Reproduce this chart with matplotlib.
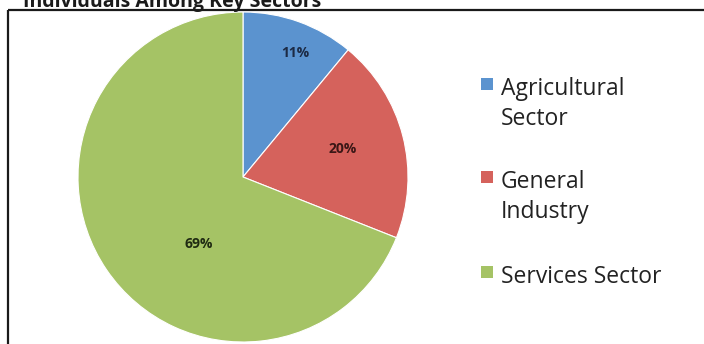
import matplotlib
matplotlib.use("Agg")
import matplotlib.pyplot as plt
from matplotlib.patches import Rectangle
import numpy as np

# ---- data ----
categories = ["Agricultural\nSector", "General\nIndustry", "Services Sector"]
shares = [11, 20, 69]
pct_labels = ["11%", "20%", "69%"]
title = "Individuals Among Key Sectors"

colors = ["#5b93cf", "#d5625c", "#a5c365"]
pct_colors = ["#1c2a44", "#3a1716", "#1f2a12"]
# label placement (angle in degrees, fraction of radius)
label_place = [(67.2, 0.815), (15.6, 0.63), (236.5, 0.49)]

W, H = 704, 344
fig = plt.figure(figsize=(W / 100, H / 100), dpi=100)
ax = fig.add_axes([0, 0, 1, 1])

cx, cy, r = 243, H - 177, 165
wedges, _ = ax.pie(shares, colors=colors, startangle=90, counterclock=False,
                   center=(cx, cy), radius=r,
                   wedgeprops=dict(edgecolor="white", linewidth=0.8))

for (ang, frac), txt, col in zip(label_place, pct_labels, pct_colors):
    a = np.deg2rad(ang)
    ax.text(cx + frac * r * np.cos(a), cy + frac * r * np.sin(a), txt,
            ha="center", va="center", fontsize=10, fontweight="bold",
            family="Open Sans", color=col)

# legend (manual, Excel-like)
leg_x_sq, sq = 481, 12
leg_x_txt = 501
first_baselines = [95, 188, 283]
line_pitch = 30
for lab, col, yb in zip(categories, colors, first_baselines):
    ax.add_patch(Rectangle((leg_x_sq, H - yb + 5), sq, sq, facecolor=col,
                           edgecolor="none"))
    for i, line in enumerate(lab.split("\n")):
        ax.text(leg_x_txt, H - (yb + i * line_pitch), line, ha="left",
                va="baseline", fontsize=16.5, family="Open Sans",
                color="#222222")

# frame lines (top and left)
ax.plot([8, W], [H - 10.3, H - 10.3], color="#1a1a1a", linewidth=1.6,
        solid_capstyle="butt")
ax.plot([8, 8], [H - 10.3, 0], color="#1a1a1a", linewidth=1.6,
        solid_capstyle="butt")

# title, cut off at the top edge as in the reference
ax.text(23, H - 6.5, title, ha="left", va="baseline", fontsize=14,
        fontweight="bold", family="Open Sans", color="#1a1a1a")

ax.set_xlim(0, W)
ax.set_ylim(0, H)
ax.set_aspect("equal")
ax.axis("off")

fig.savefig("out.png", dpi=100)
